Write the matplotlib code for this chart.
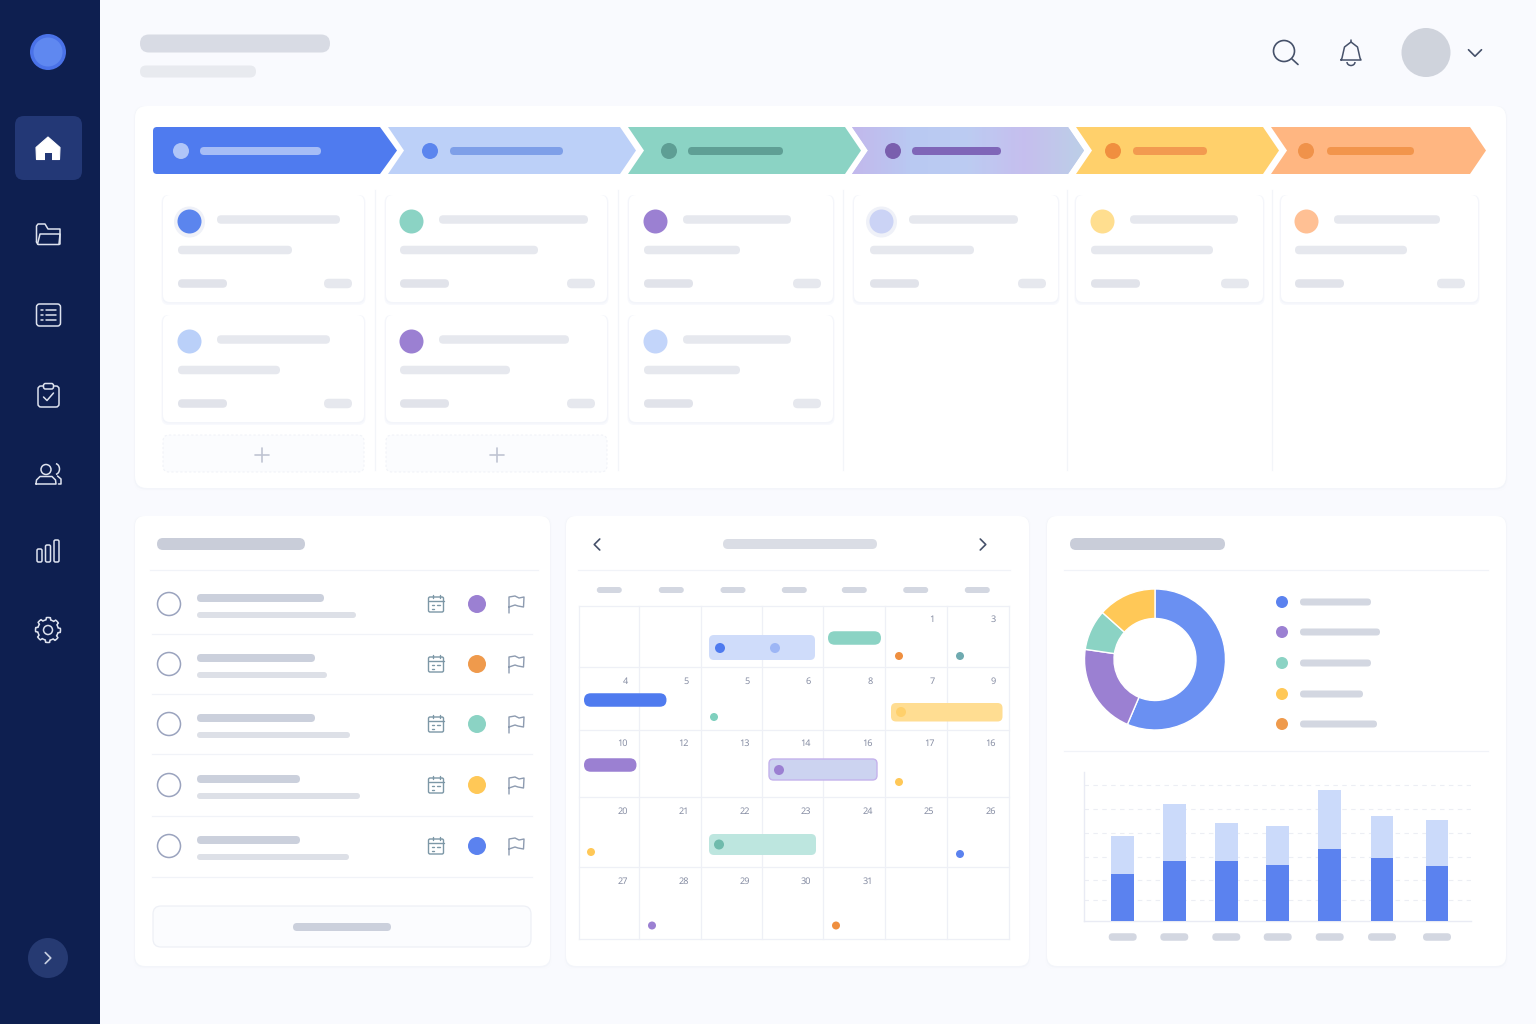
import numpy as np
import matplotlib
matplotlib.use('Agg')
import matplotlib.pyplot as plt
from matplotlib.patches import Circle, FancyBboxPatch, Polygon, Rectangle, Arc

# donut + legend
donut_values = [56.4, 20.9, 9.3, 13.4]
donut_colors = ['#6A90F2', '#9B80D2', '#8BD3C4', '#FFC857']
legend_colors = ['#5B82EF', '#9B80D2', '#8BD3C4', '#FFC857', '#EF9A4C']
legend_ends = [1371, 1380, 1371, 1363, 1377]

# stacked bars
bar_dark = [47, 60, 60, 56, 72.5, 63, 55.5]
bar_light = [38, 57, 38.5, 39.5, 58.5, 42, 45.5]
bar_centres = [38.7, 90.3, 142.3, 193.7, 245.7, 298, 353]
grid_levels = [20.7, 41.3, 64.3, 88, 112.3, 136.3]

# calendar numbers, rows of the month view ('' = empty cell)
cal_rows = [
    ['', '', '', '', '', '1', '3'],
    ['4', '5', '5', '6', '8', '7', '9'],
    ['10', '12', '13', '14', '16', '17', '16'],
    ['20', '21', '22', '23', '24', '25', '26'],
    ['27', '28', '29', '30', '31', '', ''],
]
cal_x = [578.5, 638.7, 700.7, 761.7, 823.3, 885, 946.7, 1009.3]
cal_y = [606, 667.3, 730.3, 797.3, 866.7, 939.3]
cal_num_x = [628, 689, 750, 811, 873, 934.5, 996]
cal_num_y = [619.5, 681.5, 744, 812, 881.5]
weekday_x = [609.3, 671.3, 733, 794.3, 854.3, 915.7, 977.3]

# workflow stages
stage_x = [(153, 380, 397), (388, 620, 636), (628, 845, 861), (852, 1068, 1084), (1076, 1263, 1279), (1271, 1470, 1486)]
stage_col = ['#4F7BEF', '#BCD0F8', '#8BD3C4', '#BFC9F1', '#FFD06B', '#FFB681']
stage_dot = [(181, '#AFC5F8'), (430, '#5B85EE'), (669, '#5E9E94'), (893, '#7A5FAE'), (1113, '#F08F3F'), (1306, '#F0924A')]
stage_pill = [(200, 321, '#A6BDF6'), (450, 563, '#7E9FE8'), (688, 783, '#5F9F95'), (912, 1001, '#7F66B8'), (1133, 1207, '#F29A50'), (1327, 1414, '#F2954C')]

# kanban cards: left, right, top, text left, dot colour, title end, sub end, tag start
cards = [
    (163, 364, 195, 178, '#5B85EE', 340, 292, 324),
    (163, 364, 315, 178, '#BAD0F9', 330, 280, 324),
    (386, 607, 195, 400, '#8BD3C4', 588, 538, 567),
    (386, 607, 315, 400, '#9B80D2', 569, 510, 567),
    (629, 833, 195, 644, '#9B80D2', 791, 740, 793),
    (629, 833, 315, 644, '#C3D5FA', 791, 740, 793),
    (854, 1058, 195, 870, '#CBD3F5', 1018, 974, 1018),
    (1076, 1263, 195, 1091, '#FFDE8F', 1238, 1213, 1221),
    (1281, 1478, 195, 1295, '#FFC094', 1440, 1407, 1437),
]

# task list
task_y = [604, 664, 724, 785, 846]
task_title_end = [324, 315, 315, 300, 300]
task_sub_end = [356, 327, 350, 360, 349]
task_dot = ['#9B80D2', '#EF9A4C', '#8BD3C4', '#FFC857', '#5B82EF']

BG = '#F9FAFE'
NAVY = '#0E1F50'

plt.rcParams['text.hinting'] = 'none'
plt.rcParams['text.hinting_factor'] = 1
fig = plt.figure(figsize=(15.36, 10.24), dpi=100, facecolor=BG)
ax = fig.add_axes([0, 0, 1, 1])
ax.set_xlim(0, 1536)
ax.set_ylim(1024, 0)
ax.axis('off')
plt.rcParams['font.family'] = ['Noto Sans', 'DejaVu Sans']


def pill(x0, x1, yc, h, color, z=5):
    r = min(h / 2, (x1 - x0) / 2)
    ax.add_patch(FancyBboxPatch((x0, yc - h / 2), x1 - x0, h, boxstyle=f'round,pad=0,rounding_size={r}',
                                fc=color, ec='none', zorder=z))


def box(x0, y0, x1, y1, r, fc='white', ec='none', lw=0.8, z=2, ls='-'):
    ax.add_patch(FancyBboxPatch((x0, y0), x1 - x0, y1 - y0, boxstyle=f'round,pad=0,rounding_size={r}',
                                fc=fc, ec=ec, lw=lw, zorder=z, ls=ls))


def shadow_box(x0, y0, x1, y1, r, z=2):
    for grow, col in [(3, '#F8F9FD'), (1.5, '#F3F5FA')]:
        box(x0 - grow * 0.5, y0, x1 + grow * 0.5, y1 + grow, r, fc=col, z=z)
    box(x0, y0, x1, y1, r, z=z + 0.1)


def dot(x, y, r, color, z=6, ec='none', lw=0):
    ax.add_patch(Circle((x, y), r, fc=color, ec=ec, lw=lw, zorder=z))


def stroke(xs, ys, color='white', lw=1.2, z=7):
    ax.plot(xs, ys, color=color, lw=lw, zorder=z, solid_capstyle='round', solid_joinstyle='round')


def hline(x0, x1, y, color='#F1F3F8', lw=0.9, z=3):
    ax.plot([x0, x1], [y, y], color=color, lw=lw, zorder=z)


def vline(x, y0, y1, color='#F1F3F8', lw=0.9, z=3):
    ax.plot([x, x], [y0, y1], color=color, lw=lw, zorder=z)


def chevron(x, y, s, direction, color, lw=1.3):
    d = 1 if direction == 'right' else -1
    stroke([x - d * s / 2, x + d * s / 2, x - d * s / 2], [y - s, y, y + s], color, lw)


def chevron_down(x, y, s, color, lw=1.3):
    stroke([x - s, x, x + s], [y - s / 2, y + s / 2, y - s / 2], color, lw)


# sidebar
ax.add_patch(Rectangle((0, 0), 100, 1024, fc=NAVY, ec='none', zorder=1))
dot(48, 52, 18, '#4A72E8', z=2)
dot(48, 52, 14.5, '#5F88F0', z=3)
box(15, 116, 82, 180, 9, fc='#233876', z=2)

# home icon
ax.add_patch(Polygon([(48, 137), (60, 147.5), (59.5, 159.5), (36.5, 159.5), (36, 147.5)], closed=True,
                     fc='white', ec='white', lw=0.8, joinstyle='round', zorder=7))
ax.add_patch(Rectangle((44.5, 152.5), 7, 8, fc='#233876', ec='none', zorder=8))

ICON = '#DDE2EE'
# folder
stroke([36.5, 36.5, 38, 45, 48, 60, 60, 59, 38, 36.5], [242, 226, 224, 224, 229, 229, 244, 244.5, 244.5, 242], ICON, 1.1)
stroke([37.5, 40, 60, 59], [244, 234, 234, 244], ICON, 1.1)
# list
box(36.5, 304, 60.5, 326, 3, fc='none', ec=ICON, lw=1.1, z=7)
for yy in [310, 315, 320]:
    stroke([41, 43], [yy, yy], ICON, 1.1)
    stroke([46, 56], [yy, yy], ICON, 1.1)
# clipboard
box(38, 386, 59, 407, 3, fc='none', ec=ICON, lw=1.1, z=7)
box(43.5, 383.5, 53.5, 389, 2, fc=NAVY, ec=ICON, lw=1.1, z=7.5)
stroke([43.5, 47, 53.5], [397, 400.5, 393], ICON, 1.1)
# users
ax.add_patch(Circle((46, 469.5), 5, fc='none', ec=ICON, lw=1.1, zorder=7))
stroke([36, 36.5, 40, 52, 55.5, 56, 36], [484, 480, 476.5, 476.5, 480, 484, 484], ICON, 1.1)
ax.add_patch(Arc((55, 469), 9, 11, theta1=-80, theta2=80, ec=ICON, lw=1.1, zorder=7))
stroke([57.5, 61, 61, 58.5], [476, 479, 484, 484], ICON, 1.1)
# bars
box(37, 549, 42, 562, 1.5, fc='none', ec=ICON, lw=1.1, z=7)
box(45.5, 545, 50.5, 562, 1.5, fc='none', ec=ICON, lw=1.1, z=7)
box(54, 540, 59, 562, 1.5, fc='none', ec=ICON, lw=1.1, z=7)
# gear
gear_t = np.linspace(0, 2 * np.pi, 97)
gear_r = 12.5 - 2.2 * (np.cos(8 * gear_t) < 0)
ax.add_patch(Polygon(np.c_[48 + gear_r * np.cos(gear_t), 630 + gear_r * np.sin(gear_t)], closed=True,
                     fc='none', ec=ICON, lw=1.1, joinstyle='round', zorder=7))
ax.add_patch(Circle((48, 630), 4.5, fc='none', ec=ICON, lw=1.1, zorder=7))
# collapse button
dot(48, 958, 20, '#263A72', z=3)
chevron(48, 958, 5.5, 'right', '#C9D0E2', 1.2)

# header
pill(140, 330, 43.5, 18, '#D8DBE4')
pill(140, 256, 71.5, 12, '#E8EAEF')
SLATE = '#46516A'
ax.add_patch(Circle((1284, 51), 10.5, fc='none', ec=SLATE, lw=1.2, zorder=7))
stroke([1292, 1298], [59, 64.5], SLATE, 1.2)
stroke([1341, 1342, 1344.5, 1351, 1357.5, 1360, 1361, 1341], [60, 58, 47, 42, 47, 58, 60, 60], SLATE, 1.1)
stroke([1351, 1351], [40, 42], SLATE, 1.1)
ax.add_patch(Arc((1351, 62), 8, 7, theta1=0, theta2=180, ec=SLATE, lw=1.1, zorder=7))
dot(1426, 52.5, 24.5, '#CFD3DC')
chevron_down(1475, 53, 6.5, SLATE, 1.2)

# main panels
shadow_box(135, 106, 1506, 488, 12)
shadow_box(135, 516, 550, 966, 10)
shadow_box(566, 516, 1029, 966, 10)
shadow_box(1047, 516, 1506, 966, 10)

# workflow arrows
for i, (x0, sh, tip) in enumerate(stage_x):
    pts = [(x0, 127), (sh, 127), (tip, 150.5), (sh, 174), (x0, 174)]
    if i > 0:
        pts.append((x0 + 16, 150.5))
    if i == 0:
        # only the left end of the first stage is rounded
        box(x0, 127, x0 + 12, 174, 4, fc=stage_col[i], z=4)
        pts[0] = (x0 + 4, 127)
        pts[-1] = (x0 + 4, 174)
    poly = Polygon(pts, closed=True, fc=stage_col[i], ec='none', zorder=4)
    ax.add_patch(poly)
    if i == 3:
        # the purple/blue wash on the fourth stage
        grad = np.linspace(0, 1, 64).reshape(1, -1)
        cm = matplotlib.colors.LinearSegmentedColormap.from_list('wash', ['#C2B8EC', '#B9C9F2', '#BCCCF2', '#C6BEEE', '#BCCFE8'])
        im = ax.imshow(grad, extent=(x0, tip, 174, 127), cmap=cm, aspect='auto', zorder=4.2)
        im.set_clip_path(poly)
    dot(stage_dot[i][0], 151, 8, stage_dot[i][1])
    pill(stage_pill[i][0], stage_pill[i][1], 151, 8, stage_pill[i][2])
ax.set_xlim(0, 1536)
ax.set_ylim(1024, 0)

# kanban columns
for sep in [375, 618, 843, 1067, 1272]:
    vline(sep, 190, 470, '#F3F5F9')
PILL = '#E6E8EE'
for n, (x0, x1, top, lx, col, t_end, s_end, tag) in enumerate(cards):
    shadow_box(x0, top, x1, top + 107, 7, z=3)
    cx = lx + 11.5
    if n in (0, 6):
        dot(cx, top + 27, 15.5, '#EFF1F8')
    dot(cx, top + 26.5, 12, col)
    pill(lx + 39, t_end, top + 24.5, 8.5, PILL)
    pill(lx, s_end, top + 55, 8.5, PILL)
    pill(lx, lx + 49, top + 88.5, 8.5, '#E1E3EA')
    pill(tag, tag + 28, top + 88.5, 9.5, '#E6E8EE')
for x0, x1 in [(163, 364), (386, 607)]:
    box(x0, 435, x1, 472, 6, fc='#FBFCFE', ec='#F1F3F8', lw=0.8, z=3, ls=(0, (2, 2)))
    xm = (x0 + x1) / 2 - 1.5 if x0 == 163 else (x0 + x1) / 2
    stroke([xm - 7, xm + 7], [454.5, 454.5], '#BFC4D2', 1.2)
    stroke([xm, xm], [447.5, 461.5], '#BFC4D2', 1.2)

# task list
pill(157, 305, 544, 12, '#C9CDD9')
hline(150, 538, 569.5)
for i, y in enumerate(task_y):
    ax.add_patch(Circle((169, y), 11.5, fc='white', ec='#9AA3BE', lw=1.1, zorder=6))
    pill(197, task_title_end[i], y - 6, 8, '#CBD0DC')
    pill(197, task_sub_end[i], y + 11, 6, '#DDE0E7')
    # calendar glyph
    box(428.5, y - 7, 443.5, y + 8, 1.5, fc='none', ec='#7C97A6', lw=1, z=7)
    stroke([428.5, 443.5], [y - 3, y - 3], '#7C97A6', 1)
    stroke([432.5, 432.5], [y - 9, y - 6], '#7C97A6', 1)
    stroke([439.5, 439.5], [y - 9, y - 6], '#7C97A6', 1)
    stroke([432, 434], [y + 1, y + 1], '#7C97A6', 1)
    stroke([437, 440], [y + 1, y + 1], '#7C97A6', 1)
    stroke([432, 434], [y + 5, y + 5], '#7C97A6', 1)
    dot(477, y, 9, task_dot[i])
    # flag
    stroke([509, 509, 515, 519, 524, 523.5, 518, 515, 509], [y + 9, y - 7, y - 8, y - 6, y - 7, y + 3, y + 2, y + 1, y + 3], '#8D9BB0', 1)
    hline(152, 532, y + 30 + (1 if i > 2 else 0))
box(153, 906, 531, 947, 8, fc='#FBFCFE', ec='#EEF0F6', lw=0.9, z=3)
pill(293, 391, 927, 8, '#CBD0DC')

# calendar
chevron(597, 544.5, 5.5, 'left', SLATE, 1.2)
chevron(983, 544.5, 5.5, 'right', SLATE, 1.2)
pill(723, 877, 544, 10, '#DADDE5')
hline(578, 1010, 570)
for wx in weekday_x:
    pill(wx - 12.5, wx + 12.5, 590, 6, '#D3D7E1')
for gx in cal_x:
    vline(gx, cal_y[0], cal_y[-1], '#EEF0F6')
for gy in cal_y:
    hline(cal_x[0], cal_x[-1], gy, '#EEF0F6')
for r, row in enumerate(cal_rows):
    for c, label in enumerate(row):
        if label:
            ax.text(cal_num_x[c], cal_num_y[r], label, ha='right', va='center', fontsize=6.6, color='#868DA3', zorder=6)

# calendar events
box(709, 635, 815, 660, 5, fc='#CFDCFA', z=5)
dot(720, 648, 5, '#4F7BEF')
dot(775, 648, 5, '#9DB6F5')
pill(828, 881, 638, 13.5, '#8BD3C4')
dot(899, 656, 4, '#EF8F3F')
dot(960, 656, 4, '#6FAAB0')
pill(584, 666.5, 700, 13.5, '#4F7BEF')
dot(714, 717, 4, '#7FD0BE')
box(891, 703, 1002.5, 721.5, 5, fc='#FFDD92', z=5)
dot(901, 712, 5, '#FFD06B')
pill(584, 636.5, 765, 13.5, '#9B80D2')
box(769, 759, 877, 780, 4.5, fc='#CCD3F0', ec='#C4B2EC', lw=1, z=5)
dot(779, 770, 5, '#9B80D2')
dot(899, 782, 4, '#FFC857')
dot(591, 852, 4, '#FFC857')
box(709, 834, 816, 855, 5, fc='#BDE6DF', z=5)
dot(719, 844.5, 5, '#6FBBAC')
dot(960, 854, 4, '#5B82EF')
dot(652, 925.5, 4, '#9B80D2')
dot(836, 925.5, 4, '#EF8F3F')

# right panel
pill(1070, 1225, 544, 12, '#C9CDD9')
hline(1064, 1488, 569.5)
hline(1064, 1488, 750.5)
for i, yy in enumerate([602, 632, 663, 694, 724]):
    dot(1282, yy, 6, legend_colors[i])
    pill(1300, legend_ends[i], yy, 7, '#D3D7E1')
for cx in bar_centres:
    pill(1084 + cx - 14, 1084 + cx + 14, 937, 7.5, '#D3D7E1')


def px_axes(x0, y0, x1, y1):
    return fig.add_axes([x0 / 1536, 1 - y1 / 1024, (x1 - x0) / 1536, (y1 - y0) / 1024])


# donut
ax_pie = px_axes(1155 - 72, 659.5 - 72, 1155 + 72, 659.5 + 72)
ax_pie.pie(donut_values, colors=donut_colors, startangle=90, counterclock=False, radius=70.5 / 72,
           wedgeprops={'width': 29.5 / 72, 'edgecolor': 'white', 'linewidth': 1.0})
ax_pie.set_xlim(-1, 1)
ax_pie.set_ylim(-1, 1)

# bars
ax_bar = px_axes(1084, 772, 1471, 921)
ax_bar.patch.set_alpha(0)
ax_bar.set_xlim(0, 387)
ax_bar.set_ylim(0, 149)
ax_bar.bar(bar_centres, bar_dark, width=22.7, color='#5B82EF', zorder=3)
ax_bar.bar(bar_centres, bar_light, bottom=bar_dark, width=22.7, color='#CBDAFA', zorder=3)
for lev in grid_levels:
    ax_bar.axhline(lev, color='#ECEEF4', lw=0.8, ls=(0, (4, 4)), zorder=1)
for side in ['top', 'right']:
    ax_bar.spines[side].set_visible(False)
for side in ['left', 'bottom']:
    ax_bar.spines[side].set_color('#E9EBF4')
    ax_bar.spines[side].set_linewidth(1)
ax_bar.set_xticks([])
ax_bar.set_yticks([])

fig.savefig('out.png', dpi=100, facecolor=BG)
